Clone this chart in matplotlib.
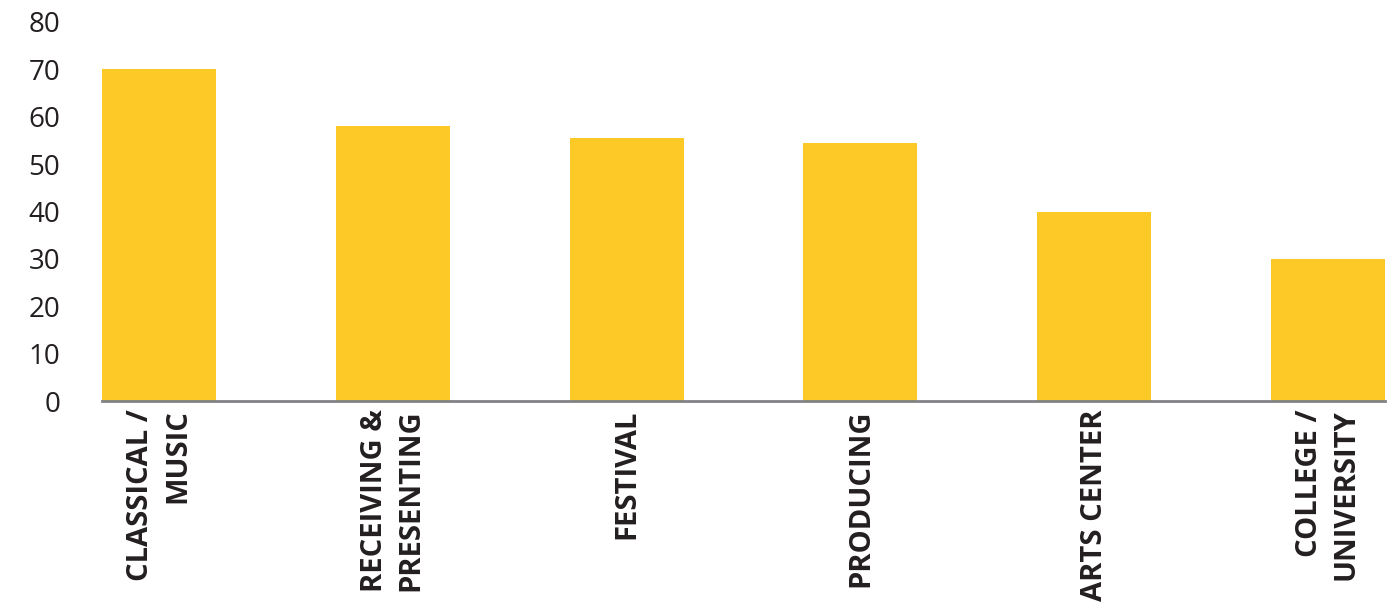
import matplotlib.pyplot as plt
import numpy as np

# DATA
categories = ["CLASSICAL /\nMUSIC", "RECEIVING &\nPRESENTING", "FESTIVAL",
              "PRODUCING", "ARTS CENTER", "COLLEGE /\nUNIVERSITY"]
values = [70, 58, 55.5, 54.4, 40, 30]
yticks = [0, 10, 20, 30, 40, 50, 60, 70, 80]

# PLOT
fig = plt.figure(figsize=(13.99, 6.06), dpi=100)
ax = fig.add_axes([102 / 1399, 1 - 401 / 606, (1385 - 102) / 1399, (401 - 22) / 606])

x = np.arange(len(categories))
ax.bar(x, values, width=0.488, color="#FDC926", zorder=2)

ax.set_xlim(-0.244, len(categories) - 1 + 0.244)
ax.set_ylim(0, 80)
ax.set_yticks(yticks)
ax.set_yticklabels([str(t) for t in yticks], fontsize=20, color="#231f20",
                   family=["Open Sans", "DejaVu Sans"])
ax.tick_params(axis="y", length=0, pad=30)
ax.tick_params(axis="x", length=0, pad=6)

ax.set_xticks(x)
ax.set_xticklabels(categories, rotation=90, fontsize=21, fontweight="bold",
                   color="#231f20", ha="center", va="top", multialignment="right",
                   family=["Open Sans", "DejaVu Sans"], linespacing=1.35)

for s in ["top", "right", "left"]:
    ax.spines[s].set_visible(False)
ax.spines["bottom"].set_color("#808285")
ax.spines["bottom"].set_linewidth(2)
ax.spines["bottom"].set_zorder(3)

fig.savefig("out.png", dpi=100)
